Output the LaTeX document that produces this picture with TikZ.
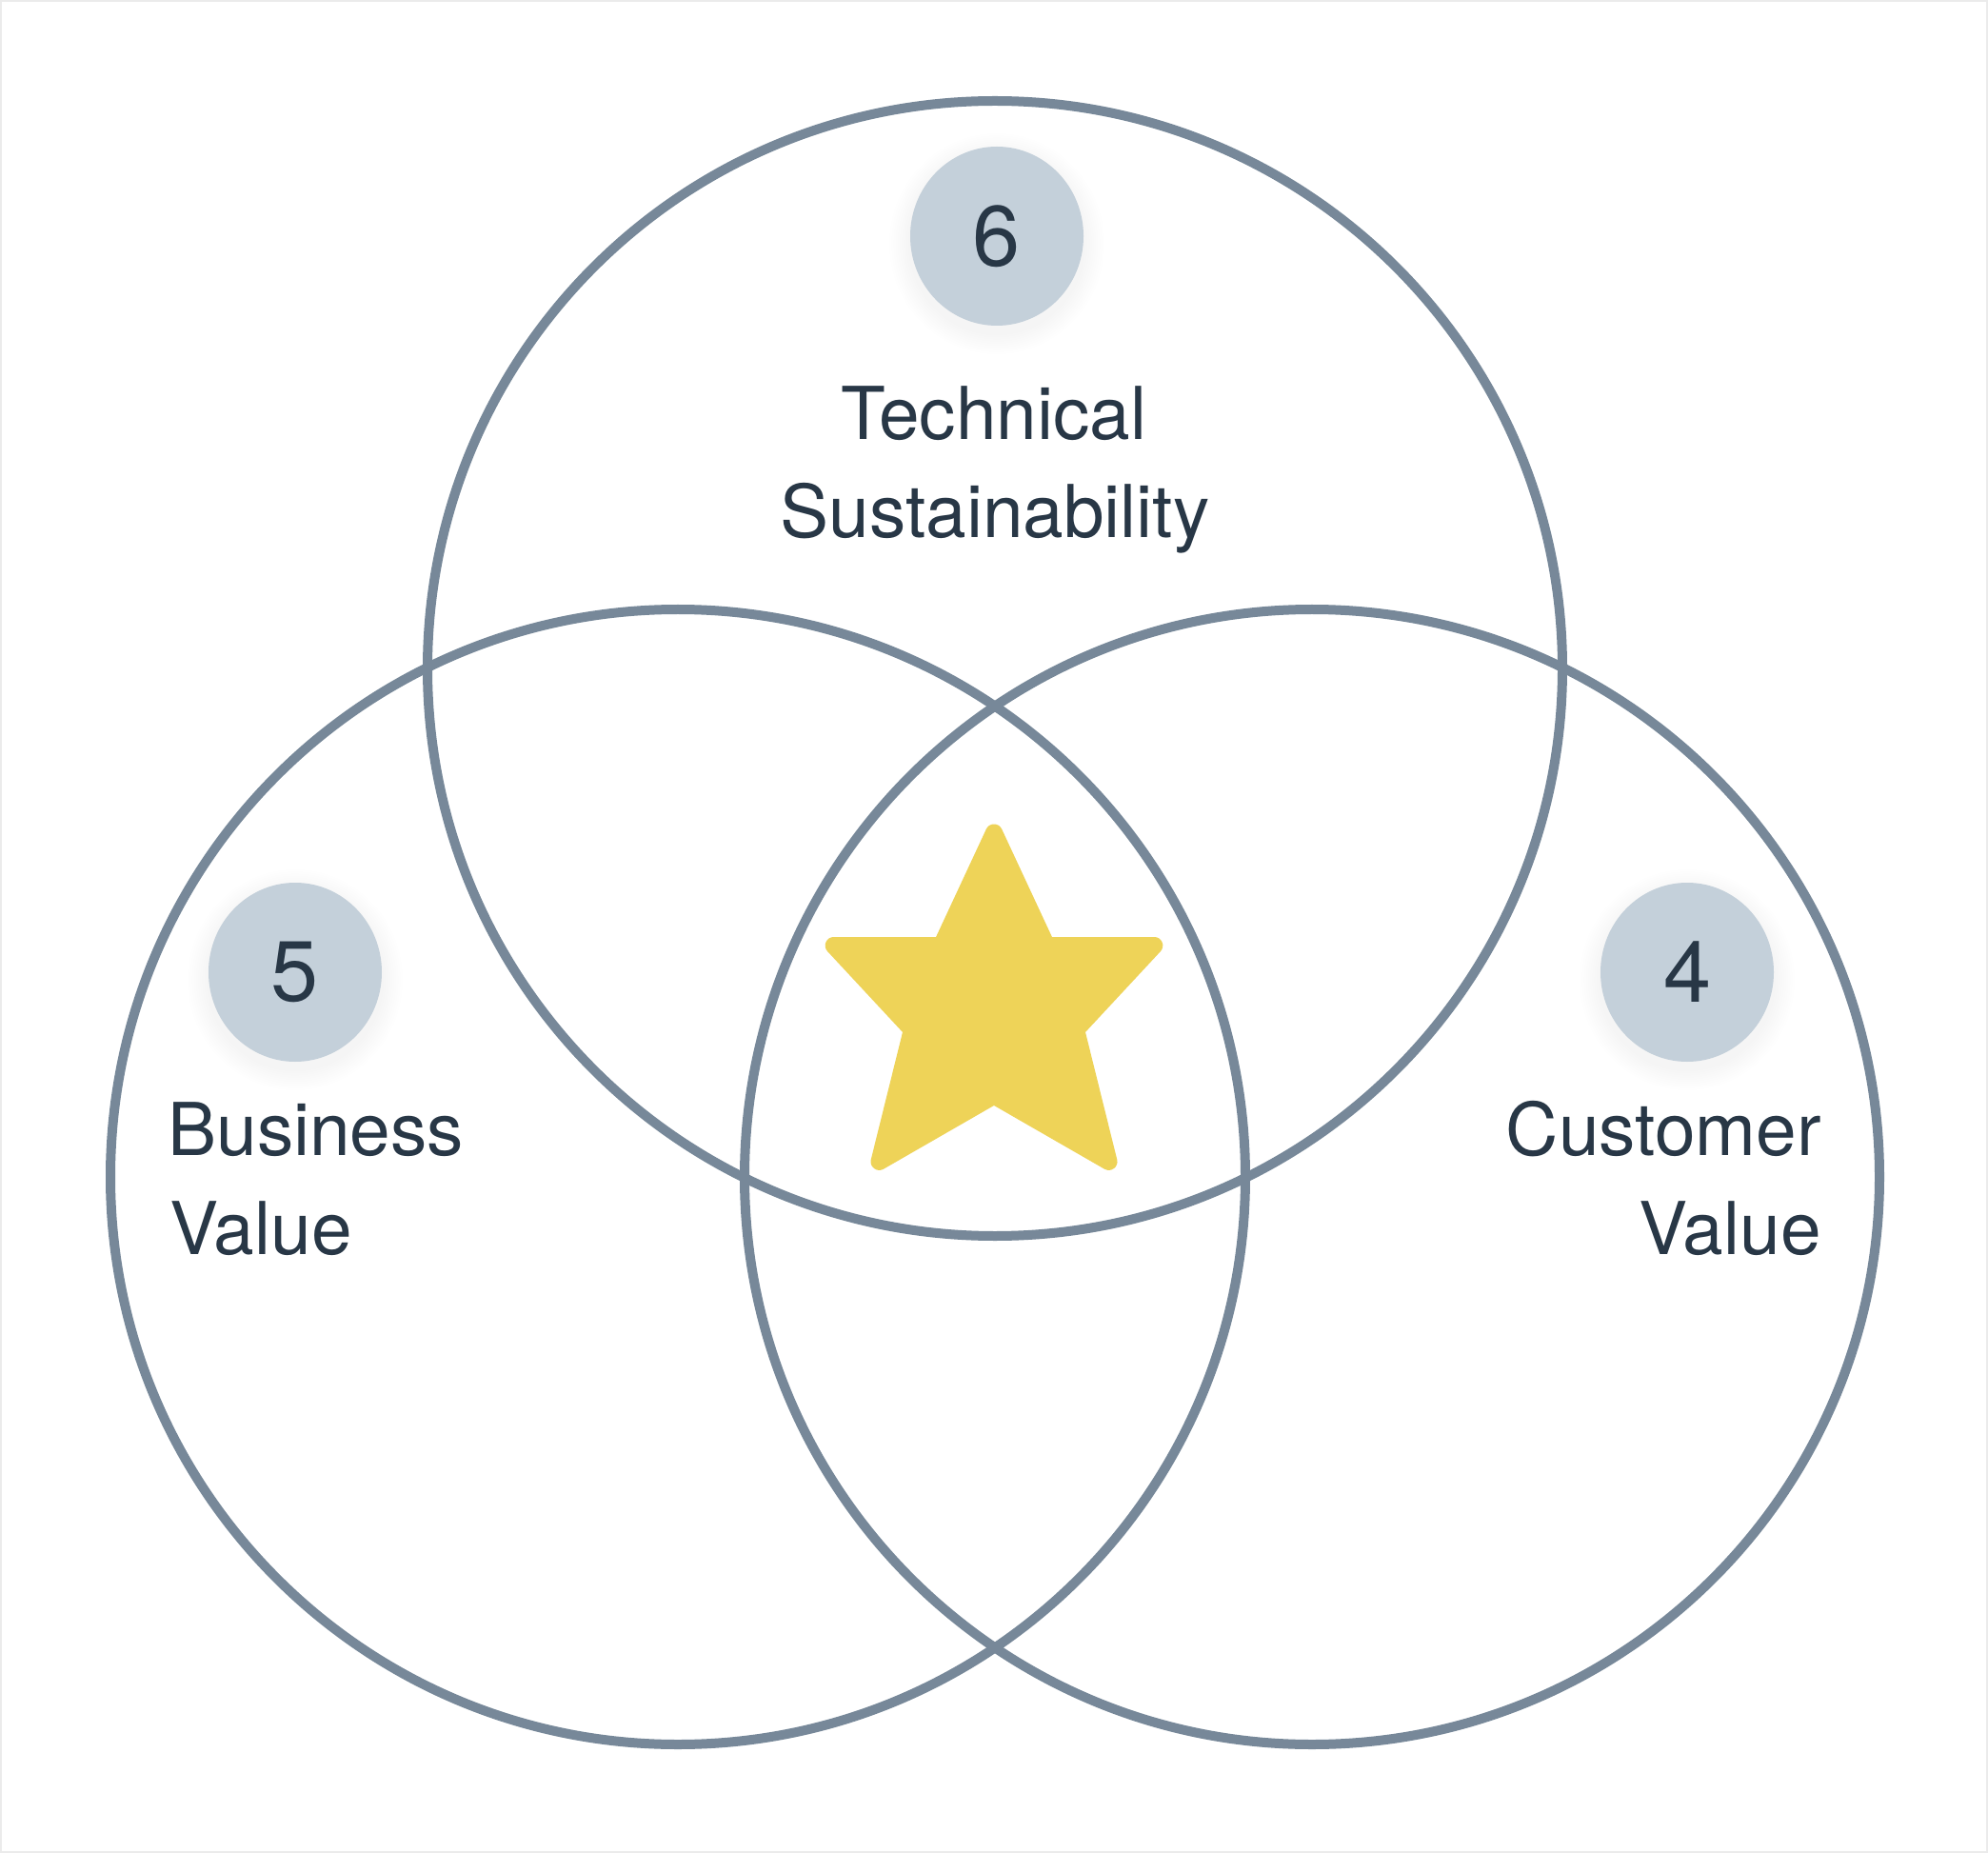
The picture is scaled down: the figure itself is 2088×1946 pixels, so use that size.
\documentclass[tikz,border=0pt]{standalone}
\usepackage{fontspec}
\setmainfont{TeX Gyre Heros}
\usetikzlibrary{shapes.geometric}
\definecolor{ringcol}{HTML}{778899}
\definecolor{badgecol}{HTML}{C4D0DA}
\definecolor{inkcol}{HTML}{283746}
\definecolor{starcol}{HTML}{EED358}
\definecolor{framecol}{HTML}{EBEBEB}
\begin{document}
\begin{tikzpicture}[x=0.5pt,y=-0.5pt,
  ring/.style={draw=ringcol,line width=5pt},
  badge/.style={ellipse,fill=badgecol,minimum width=91pt,minimum height=94pt,inner sep=0pt,
    text=inkcol,font=\fontsize{45}{45}\selectfont},
  label/.style={text=inkcol,inner sep=0pt,font=\fontsize{38.3}{46}\selectfont},
  starshape/.style={fill=starcol,draw=starcol,line width=9pt,line join=round}]
\useasboundingbox (0,0) rectangle (2088,1946);
\fill[white] (0,0) rectangle (2088,1946);
\draw[framecol,line width=1pt] (1,1) rectangle (2087,1945);
% rings
\draw[ring] (1045,702) circle (596);
\draw[ring] (712,1236) circle (596);
\draw[ring] (1378,1236) circle (596);
% star
\filldraw[starshape] (1044,874.5) -- (1099.2,993) -- (1212.3,993) -- (1130.1,1081.4)
  -- (1164.5,1219.9) -- (1044,1150.6) -- (923.5,1219.9) -- (957.9,1081.4)
  -- (875.7,993) -- (988.8,993) -- cycle;
% badge shadows
\foreach \cx/\cy in {1047/248,310/1021,1772/1021}{
  \foreach \i in {1,...,10}{
    \fill[black,opacity=0.005] (\cx,\cy+8) ellipse ({91+\i*2.2} and {94+\i*2.2});
  }
}
\node[badge] (b6) at (1047,248) {6};
\node[badge] (b5) at (310,1021) {5};
\node[badge] (b4) at (1772,1021) {4};
% labels
\node[label,anchor=base] (tech1) at (1044,462) {Technical};
\node[label,anchor=base] (tech2) at (1045,565) {Sustainability};
\node[label,anchor=base west] (bus1) at (176,1213) {Business};
\node[label,anchor=base west] (bus2) at (178,1317) {Value};
\node[label,anchor=base east] (cus1) at (1913,1213) {Customer};
\node[label,anchor=base east] (cus2) at (1913,1317) {Value};
\end{tikzpicture}
\end{document}
